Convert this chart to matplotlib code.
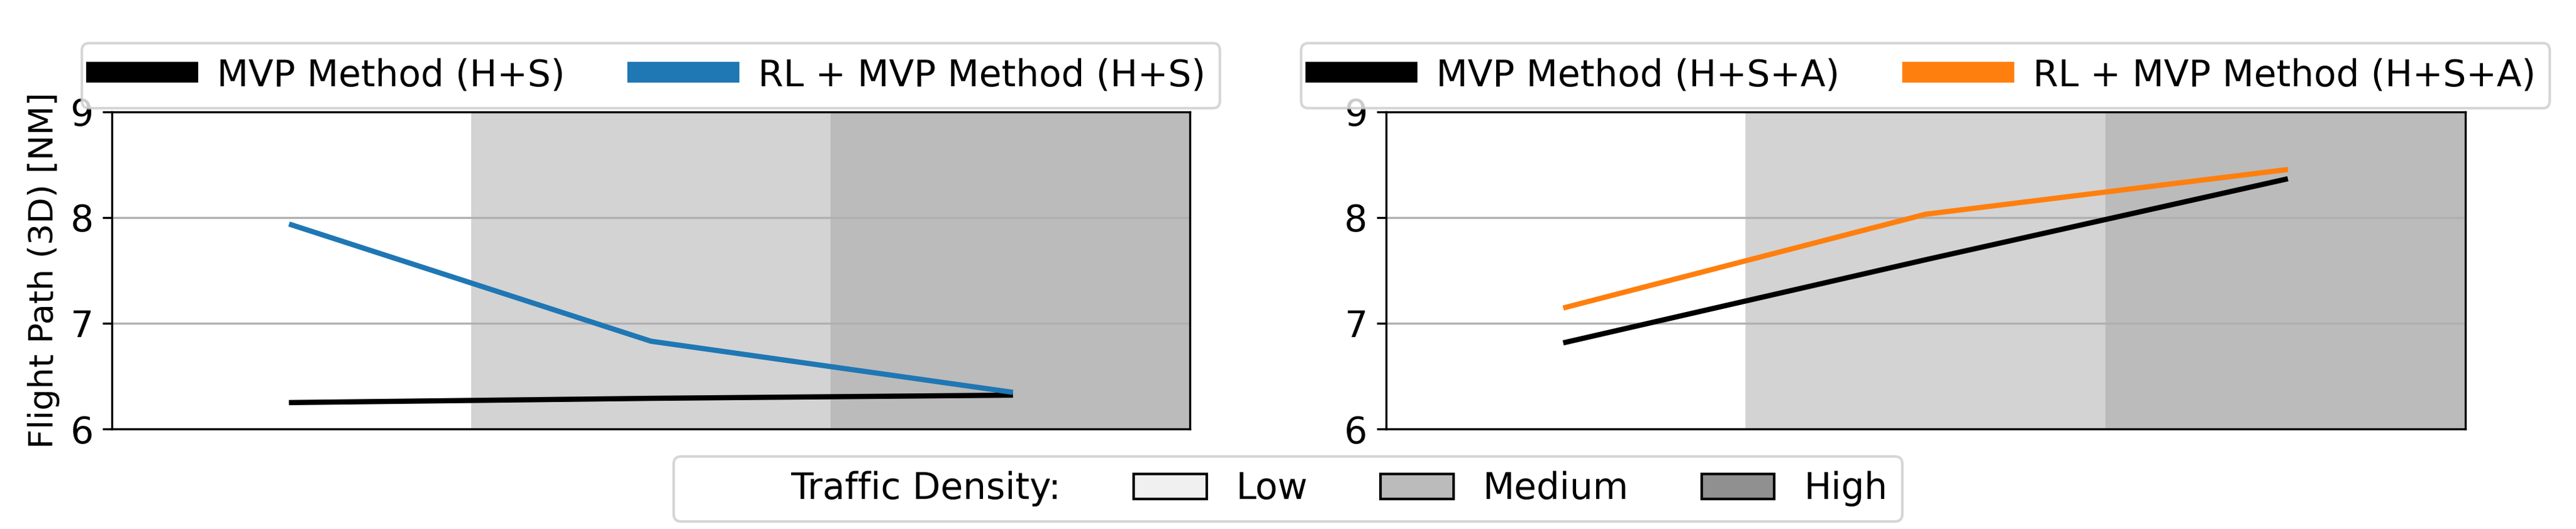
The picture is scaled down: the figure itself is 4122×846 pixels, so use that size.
import matplotlib
matplotlib.use("Agg")
import matplotlib.pyplot as plt
from matplotlib.patches import Patch

densities = ["Low", "Medium", "High"]
left_mvp = [6.25, 6.29, 6.32]
left_rl = [7.93, 6.83, 6.35]
right_mvp = [6.82, 7.60, 8.36]
right_rl = [7.15, 8.03, 8.45]

plt.rcParams['font.size'] = 14
fig = plt.figure(figsize=(13.74, 2.82), dpi=300)
axL = fig.add_axes([0.0434, 0.189, 0.4186, 0.6])
axR = fig.add_axes([0.538, 0.189, 0.419, 0.6])
bg = ["white", "#d3d3d3", "#bbbbbb"]
x = list(range(len(densities)))

def setup(ax):
    for i, c in enumerate(bg):
        ax.axvspan(i - 0.5, i + 0.5, color=c, zorder=0, lw=0)
    ax.set_xlim(-0.5, 2.5)
    ax.set_ylim(6, 9)
    ax.set_yticks([6, 7, 8, 9])
    ax.set_xticks([])
    ax.grid(axis='y', color='#b0b0b0', lw=0.8, zorder=1)
    ax.set_axisbelow(True)

setup(axL); setup(axR)
axL.plot(x, left_mvp, color='black', lw=2, label='MVP Method (H+S)')
axL.plot(x, left_rl, color='#1f77b4', lw=2, label='RL + MVP Method (H+S)')
axR.plot(x, right_mvp, color='black', lw=2, label='MVP Method (H+S+A)')
axR.plot(x, right_rl, color='#ff7f0e', lw=2, label='RL + MVP Method (H+S+A)')
axL.set_ylabel('Flight Path (3D) [NM]', fontsize=13)
for ax in (axL, axR):
    ax.legend(loc='lower center', bbox_to_anchor=(0.5, 1.0), ncol=2,
              frameon=True, handlelength=2.5, handleheight=0.9,
              borderaxespad=0.1, columnspacing=2.0)
    for h in ax.get_legend().legend_handles:
        h.set_linewidth(8)

handles = [Patch(facecolor='none', edgecolor='none'),
           Patch(facecolor='#f0f0f0', edgecolor='black'),
           Patch(facecolor='#bbbbbb', edgecolor='black'),
           Patch(facecolor='#909090', edgecolor='black')]
labels = ['Traffic Density:'] + densities
leg = fig.legend(handles, labels, loc='lower center', bbox_to_anchor=(0.5, -0.02),
                 ncol=4, columnspacing=2.0, handlelength=2.0)
leg.legend_handles[0].set_visible(False)
fig.savefig('out.png', dpi=300)
